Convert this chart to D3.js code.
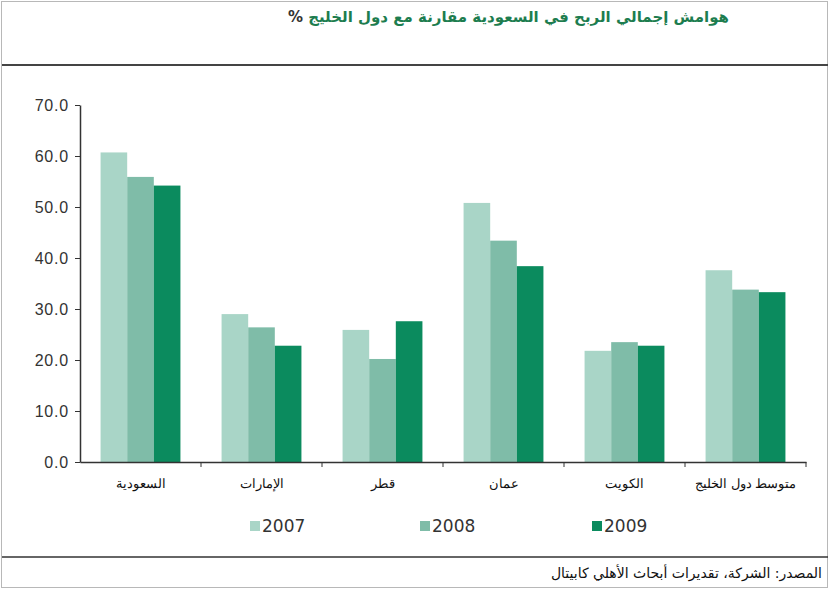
<!DOCTYPE html>
<html>
<head>
<meta charset="utf-8">
<script src="https://cdn.jsdelivr.net/npm/d3@7"></script>
<style>
  body { margin: 0; background: #fff; }
  svg { display: block; font-family: "DejaVu Sans", sans-serif; }
</style>
</head>
<body>
<svg id="chart" width="830" height="590"></svg>
<script>
// chart data
const categories = ['السعودية', 'الإمارات', 'قطر', 'عمان', 'الكويت', 'متوسط دول الخليج'];
const years = ['2007', '2008', '2009'];
const values2007 = [60.7, 29.0, 25.9, 50.8, 21.8, 37.6];
const values2008 = [55.9, 26.4, 20.2, 43.4, 23.5, 33.8];
const values2009 = [54.2, 22.8, 27.6, 38.4, 22.8, 33.3];
const yTicks = [0, 10, 20, 30, 40, 50, 60, 70];
const colors = ['#a9d5c7', '#7fbca8', '#0b8b5e'];

const series = [values2007, values2008, values2009];

const svg = d3.select('#chart');

// frame
svg.append('rect')
  .attr('x', 1.5).attr('y', 1.5)
  .attr('width', 826).attr('height', 586)
  .attr('fill', 'none').attr('stroke', '#b8b8b8');
svg.append('line')
  .attr('x1', 2).attr('x2', 828).attr('y1', 65).attr('y2', 65)
  .attr('stroke', '#444').attr('stroke-width', 2);
svg.append('line')
  .attr('x1', 2).attr('x2', 828).attr('y1', 557).attr('y2', 557)
  .attr('stroke', '#333').attr('stroke-width', 1.5);

// title
const title = svg.append('text')
  .attr('x', 729).attr('y', 22)
  .attr('direction', 'rtl')
  .attr('text-anchor', 'start')
  .attr('font-size', 15)
  .attr('font-weight', 'bold');
title.append('tspan').attr('fill', '#1d7d4f').text('هوامش إجمالي الربح في السعودية مقارنة مع دول الخليج ');
title.append('tspan').attr('fill', '#333').text('%');

// scales
const x0 = d3.scaleBand()
  .domain(categories)
  .range([80, 806])
  .paddingInner(0.34)
  .paddingOuter(0.17);

const x1 = d3.scaleBand()
  .domain(years)
  .range([0, x0.bandwidth()]);

const y = d3.scaleLinear()
  .domain([0, 70])
  .range([462, 105]);

// bars
years.forEach((yr, i) => {
  svg.append('g')
    .selectAll('rect')
    .data(series[i])
    .join('rect')
    .attr('x', (d, j) => x0(categories[j]) + x1(yr))
    .attr('y', d => y(d))
    .attr('width', x1.bandwidth())
    .attr('height', d => y(0) - y(d))
    .attr('fill', colors[i]);
});

// y axis
const yAxis = svg.append('g')
  .attr('transform', 'translate(80,0)')
  .call(d3.axisLeft(y).tickValues(yTicks).tickFormat(d3.format('.1f')).tickSize(5).tickSizeOuter(0));
yAxis.select('.domain').attr('stroke', '#333').attr('stroke-width', 1.5);
yAxis.selectAll('.tick line').attr('stroke', '#333');
yAxis.selectAll('.tick text')
  .attr('font-size', 16)
  .attr('letter-spacing', 0.8)
  .attr('fill', '#333')
  .attr('x', -11);

// x axis
const xAxis = svg.append('g')
  .attr('transform', `translate(0,${y(0)})`)
  .call(d3.axisBottom(x0).tickSize(0).tickSizeOuter(0).tickPadding(17));
xAxis.select('.domain').attr('stroke', '#333').attr('stroke-width', 1.5);
xAxis.selectAll('.tick text')
  .attr('font-size', 13)
  .attr('fill', '#111');

// tick marks between categories
const step = x0.step();
const bounds = categories.map(c => x0(c) + x0.bandwidth() + step * x0.paddingInner() / 2);
svg.append('g')
  .selectAll('line')
  .data(bounds)
  .join('line')
  .attr('x1', d => d).attr('x2', d => d)
  .attr('y1', y(0)).attr('y2', y(0) + 5)
  .attr('stroke', '#333');

// legend
const legendX = [250, 420, 592];
const legend = svg.append('g')
  .selectAll('g')
  .data(years)
  .join('g')
  .attr('transform', (d, i) => `translate(${legendX[i]},526)`);
legend.append('rect')
  .attr('x', 0).attr('y', -5)
  .attr('width', 10).attr('height', 10)
  .attr('fill', (d, i) => colors[i]);
legend.append('text')
  .attr('x', 12).attr('y', 6)
  .attr('font-size', 17)
  .attr('fill', '#333')
  .text(d => d);

// source
svg.append('text')
  .attr('x', 822).attr('y', 578)
  .attr('direction', 'rtl')
  .attr('text-anchor', 'start')
  .attr('font-size', 14)
  .attr('fill', '#111')
  .text('المصدر: الشركة، تقديرات أبحاث الأهلي كابيتال');
</script>
</body>
</html>
